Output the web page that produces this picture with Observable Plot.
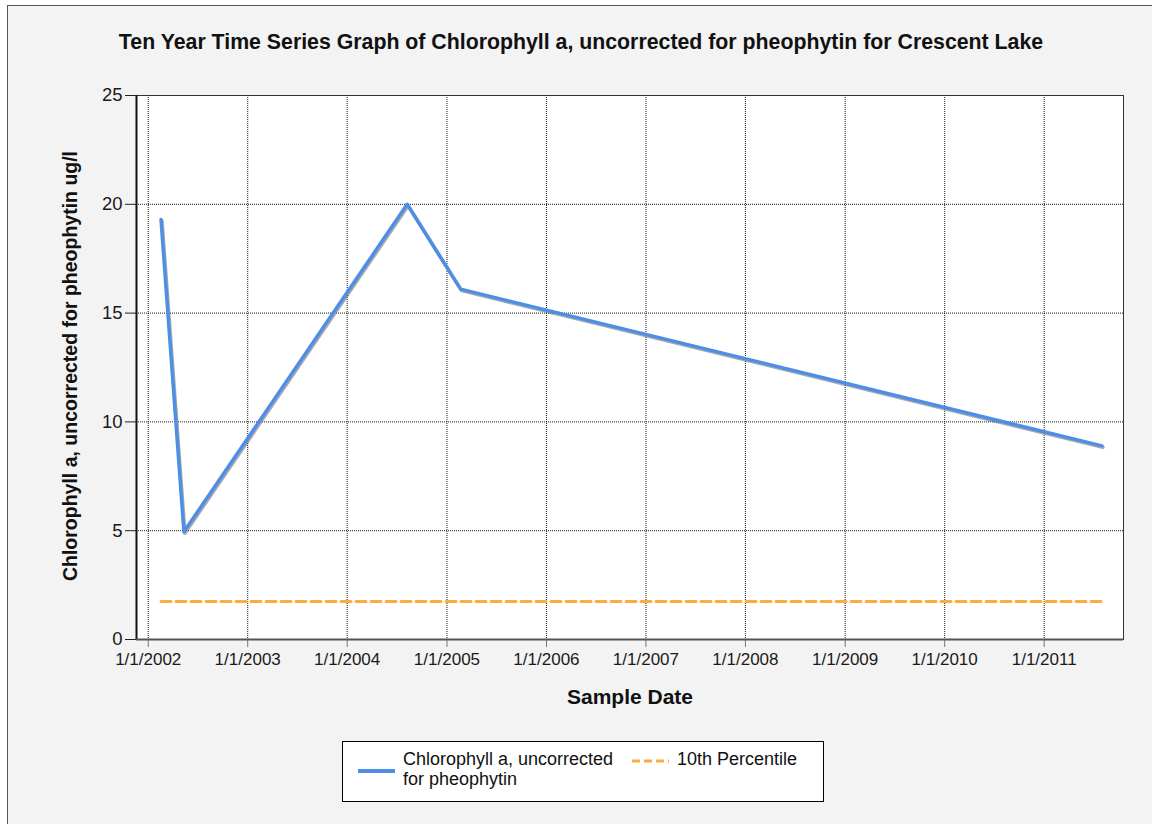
<!DOCTYPE html>
<html><head><meta charset="utf-8">
<script src="https://cdn.jsdelivr.net/npm/d3@7"></script>
<script src="https://cdn.jsdelivr.net/npm/@observablehq/plot@0.6"></script>
<style>
html,body{margin:0;padding:0;background:#fff;width:1152px;height:824px;overflow:hidden;}
body{position:relative;font-family:"Liberation Sans",Arial,sans-serif;color:#111;}
#frame{position:absolute;left:7px;top:5px;width:1160px;height:830px;background:#f3f3f3;border-left:1px solid #555;border-top:1px solid #555;}
#chart{position:absolute;left:0;top:0;}
.lbl{position:absolute;font-weight:bold;white-space:nowrap;color:#111;}
#title{left:0;width:1162px;top:30px;line-height:24px;text-align:center;font-size:21.3px;}
#ylab{left:70px;top:366px;font-size:19.5px;transform:translate(-50%,-50%) rotate(-90deg);}
#xlab{left:630px;top:697px;font-size:21px;transform:translate(-50%,-50%);}
#legend{position:absolute;left:342px;top:741px;width:480px;height:59px;background:#fff;border:1px solid #000;font-size:18px;color:#111;}
#legend .t{position:absolute;line-height:20px;}
</style></head>
<body>
<div id="frame"></div>
<div id="chart"></div>
<div class="lbl" id="title">Ten Year Time Series Graph of Chlorophyll a, uncorrected for pheophytin for Crescent Lake</div>
<div class="lbl" id="ylab">Chlorophyll a, uncorrected for pheophytin ug/l</div>
<div class="lbl" id="xlab">Sample Date</div>
<div id="legend">
  <svg width="480" height="59" style="position:absolute;left:0;top:0">
    <line x1="15" x2="52" y1="29" y2="29" stroke="#4f8ee6" stroke-width="4"/>
    <line x1="289" x2="326" y1="19" y2="19" stroke="#fbae40" stroke-width="3" stroke-dasharray="8,4"/>
  </svg>
  <div class="t" style="left:60px;top:7px">Chlorophyll a, uncorrected<br>for pheophytin</div>
  <div class="t" style="left:334px;top:7px">10th Percentile</div>
</div>
<script>
// Data
const sampleDates = ["2002-02-17", "2002-05-12", "2004-08-08", "2005-02-20", "2011-08-01"];
const chlorophyll = [19.3, 4.95, 20.0, 16.1, 8.9];
const percentile10 = 1.75;
const yTicks = [0, 5, 10, 15, 20, 25];
const xTickYears = [2002, 2003, 2004, 2005, 2006, 2007, 2008, 2009, 2010, 2011];
const xTickLabels = ["1/1/2002", "1/1/2003", "1/1/2004", "1/1/2005", "1/1/2006", "1/1/2007", "1/1/2008", "1/1/2009", "1/1/2010", "1/1/2011"];

const rows = sampleDates.map((d, i) => ({date: new Date(d), value: chlorophyll[i], p10: percentile10}));
const tickDates = xTickYears.map(y => new Date(Date.UTC(y, 0, 1)));
const xDomain = [new Date(Date.UTC(2001, 10, 19)), new Date(Date.UTC(2011, 9, 19))];

const chart = Plot.plot({
  width: 1152, height: 740,
  marginLeft: 136, marginRight: 29, marginTop: 95, marginBottom: 101,
  style: {background: "transparent", fontFamily: "'Liberation Sans', Arial, sans-serif", fontSize: "17px", color: "#1a1a1a", overflow: "visible"},
  x: {type: "utc", domain: xDomain},
  y: {domain: [0, 25]},
  marks: [
    Plot.frame({fill: "white"}),
    Plot.gridX(tickDates, {stroke: "#000", strokeOpacity: 0.9, strokeDasharray: "1,1"}),
    Plot.gridY(yTicks.slice(1, -1), {stroke: "#000", strokeOpacity: 0.9, strokeDasharray: "1,1"}),
    Plot.axisX(tickDates, {tickSize: 8, tickPadding: 5, stroke: "#777", fontSize: 17, label: null,
      tickFormat: d => xTickLabels[xTickYears.indexOf(d.getUTCFullYear())]}),
    Plot.axisY(yTicks, {tickSize: 11, tickPadding: 3, stroke: "#222", fontSize: 18.5, label: null}),
    Plot.line(rows, {x: "date", y: "p10", stroke: "#fbae40", strokeWidth: 3, strokeDasharray: "10,5"}),
    Plot.line(rows, {x: "date", y: "value", stroke: "#666", strokeOpacity: 0.55, strokeWidth: 3.5, dx: 1, dy: 1.5}),
    Plot.line(rows, {x: "date", y: "value", stroke: "#4f8ee6", strokeWidth: 3.5}),
    Plot.frame({stroke: "#333", strokeWidth: 1}),
    Plot.ruleX([xDomain[0]], {stroke: "#111", strokeWidth: 2}),
    Plot.ruleY([0], {stroke: "#555", strokeWidth: 2})
  ]
});
document.getElementById("chart").appendChild(chart);
</script>
</body></html>
